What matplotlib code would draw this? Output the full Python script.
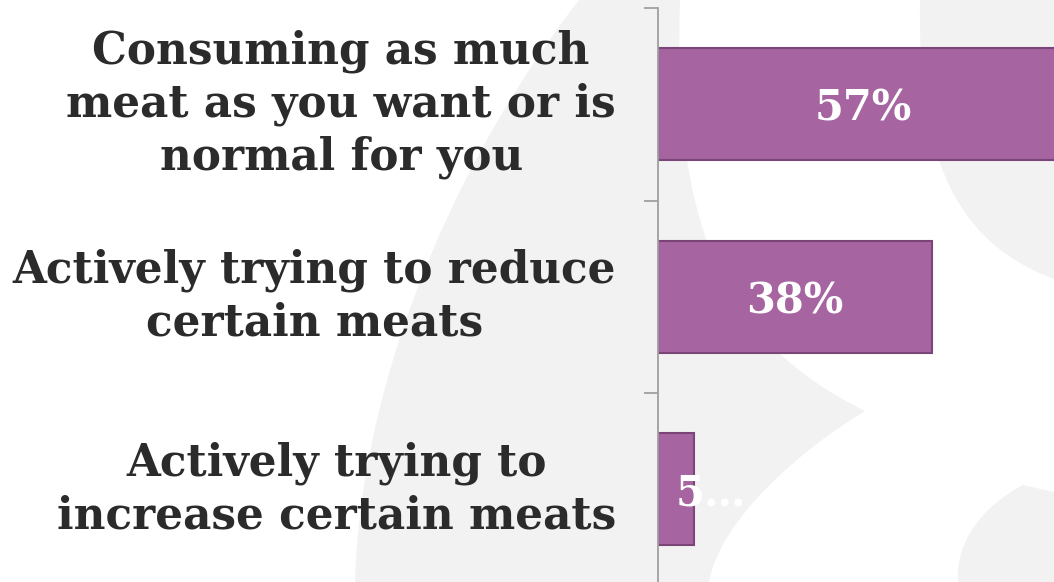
import matplotlib.pyplot as plt
from matplotlib.path import Path
from matplotlib.patches import PathPatch
from matplotlib.transforms import ScaledTranslation

categories = [
    "Consuming as much\nmeat as you want or is\nnormal for you",
    "Actively trying to reduce\ncertain meats",
    "Actively trying to\nincrease certain meats",
]
values = [57, 38, 5]
value_labels = ["57%", "38%", "5\u2026"]

W, H = 1054, 582
fig = plt.figure(figsize=(W / 100, H / 100), dpi=100)

# decorative grey shapes behind the chart (figure pixel coords)
bg = fig.add_axes([0, 0, 1, 1], zorder=0)
bg.set_xlim(0, W)
bg.set_ylim(H, 0)
bg.axis("off")
grey = "#f2f2f2"
M, L, C, Z = Path.MOVETO, Path.LINETO, Path.CURVE4, Path.CLOSEPOLY
shapes = [
    ([(579, 0), (680, 0), (672, 220), (720, 340), (865, 411),
      (800, 450), (720, 520), (709, 582), (355, 582),
      (360, 400), (440, 180), (579, 0), (579, 0)],
     [M, L, C, C, C, C, C, C, L, C, C, C, Z]),
    ([(920, 0), (918, 150), (950, 240), (1054, 279), (1054, 0), (920, 0)],
     [M, C, C, C, L, Z]),
    ([(1023, 485), (1054, 492), (1054, 582), (958, 582),
      (955, 540), (985, 505), (1023, 485), (1023, 485)],
     [M, L, L, L, C, C, C, Z]),
]
for verts, codes in shapes:
    bg.add_patch(PathPatch(Path(verts, codes), facecolor=grey, edgecolor="none"))

# main bar axes: left spine at x=658, top at y=8
left = 658 / W
band = 192.5
bottom = (H - 8 - 3 * band) / H
ax = fig.add_axes([left, bottom, 1 - left, (3 * band) / H], zorder=1)
ax.patch.set_alpha(0)

y = list(range(len(categories)))
ax.barh(y, values, height=0.58, color="#a664a0", edgecolor="#7b4677", linewidth=1.5)
ax.set_xlim(0, (W - 658) / 7.21)
ax.set_ylim(len(categories) - 0.5, -0.5)

serif = "DejaVu Serif"
for i, (v, lab) in enumerate(zip(values, value_labels)):
    ha = "center" if v > 10 else "left"
    ax.text(v / 2, i, lab, ha=ha, va="center_baseline", color="white",
            fontsize=30, fontweight="bold", family=serif)

# category labels, right-aligned block left of the spine
label_tr = ax.get_yaxis_transform() + ScaledTranslation(-0.42, 0, fig.dpi_scale_trans)
for i, cat in enumerate(categories):
    ax.text(0, i, cat, transform=label_tr, ha="right", va="center",
            multialignment="center", family=serif, fontweight="bold",
            fontsize=31.5, color="#2b2b2b", linespacing=1.29)

ax.set_yticks([])
ax.set_yticks([-0.5, 0.5, 1.5, 2.5], minor=True)
ax.tick_params(axis="y", which="minor", length=10, width=1.3, color="#a0a0a0")
ax.set_xticks([])

for s in ["top", "right", "bottom"]:
    ax.spines[s].set_visible(False)
ax.spines["left"].set_color("#a0a0a0")
ax.spines["left"].set_linewidth(1.3)

fig.savefig("out.png", dpi=100)
